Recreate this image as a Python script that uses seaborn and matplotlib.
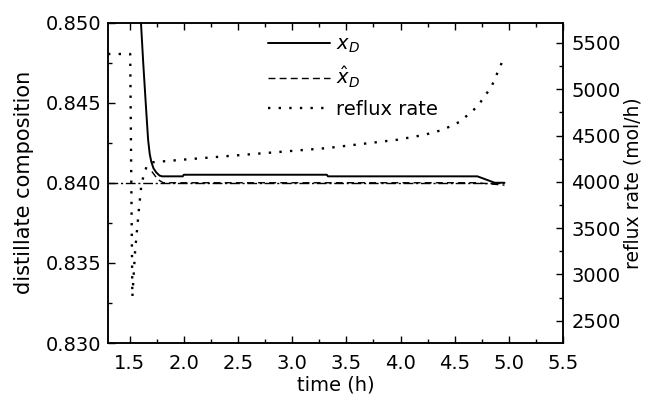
import numpy as np
import pandas as pd
import matplotlib
matplotlib.use("Agg")
import matplotlib.pyplot as plt
import seaborn as sns
from matplotlib.ticker import MultipleLocator
from matplotlib.lines import Line2D

# ---- data ----
t_xd = [1.600, 1.625, 1.648, 1.670, 1.685, 1.700, 1.720, 1.745, 1.775, 1.800, 1.990, 2.000, 3.320, 3.330, 4.710, 4.790, 4.870, 4.960]
xd = [0.8505, 0.8475, 0.8450, 0.8427, 0.8418, 0.8413, 0.8409, 0.84065, 0.84045, 0.8404, 0.8404, 0.8405, 0.8405, 0.8404, 0.8404, 0.8402, 0.8400, 0.8400]

t_xhat = [1.705, 1.760, 1.810, 4.700, 4.960]
xhat = [0.8407, 0.8402, 0.8400, 0.8400, 0.83985]

t_sp = [1.30, 4.96]
sp = [0.840, 0.840]

t_rr = [1.30, 1.505, 1.515, 1.525, 1.550, 1.585, 1.610, 1.660, 1.700, 2.000, 2.640, 3.320, 3.970, 4.220, 4.390, 4.550, 4.710, 4.840, 4.940]
rr = [5380, 5380, 4000, 2760, 3250, 3700, 3990, 4180, 4210, 4240, 4300, 4364, 4454, 4507, 4561, 4650, 4813, 5028, 5300]

xticks = [1.5, 2.0, 2.5, 3.0, 3.5, 4.0, 4.5, 5.0, 5.5]
yticks_left = [0.830, 0.835, 0.840, 0.845, 0.850]
yticks_right = [2500, 3000, 3500, 4000, 4500, 5000, 5500]
legend_labels = ["$x_D$", r"$\hat{x}_D$", "reflux rate"]

sns.set_style("ticks")
plt.rcParams['font.family'] = ['DejaVu Sans']
plt.rcParams['mathtext.fontset'] = 'dejavusans'
for k in ("text.color", "axes.labelcolor", "xtick.color", "ytick.color", "axes.edgecolor"):
    plt.rcParams[k] = "black"

FS = 14

fig = plt.figure(figsize=(6.48, 3.96), dpi=100)
ax = fig.add_axes([108/648, 1-343/396, (563-108)/648, (343-22.5)/396])
ax2 = ax.twinx()

df_xd = pd.DataFrame({"t": t_xd, "v": xd})
df_xhat = pd.DataFrame({"t": t_xhat, "v": xhat})
df_sp = pd.DataFrame({"t": t_sp, "v": sp})
df_rr = pd.DataFrame({"t": t_rr, "v": rr})

ls_dash = (0, (5, 3))
ls_dot = (0, (1, 3.5))
ls_dashdot = (0, (7, 2, 1.5, 2))

sns.lineplot(data=df_xd, x="t", y="v", ax=ax, color="black", lw=1.4, sort=False, legend=False)
sns.lineplot(data=df_sp, x="t", y="v", ax=ax, color="black", lw=1.0, sort=False, legend=False,
             linestyle=ls_dashdot)
sns.lineplot(data=df_xhat, x="t", y="v", ax=ax, color="black", lw=1.0, sort=False, legend=False,
             linestyle=ls_dash)
sns.lineplot(data=df_rr, x="t", y="v", ax=ax2, color="black", lw=1.7, sort=False, legend=False,
             linestyle=ls_dot)

ax.set_xlim(1.3, 5.5)
ax.set_ylim(0.830, 0.850)
ax2.set_ylim(2260, 5720)

ax.set_xticks(xticks)
ax.set_xticklabels([f"{v:.1f}" for v in xticks])
ax.set_yticks(yticks_left)
ax.set_yticklabels([f"{v:.3f}" for v in yticks_left])
ax2.set_yticks(yticks_right)
ax2.set_yticklabels([str(v) for v in yticks_right])
ax.xaxis.set_minor_locator(MultipleLocator(0.25))
ax.yaxis.set_minor_locator(MultipleLocator(0.0025))
ax2.yaxis.set_minor_locator(MultipleLocator(250))

ax.tick_params(which="both", direction="in", top=True, right=False, labelsize=FS, width=1, colors="black")
ax.tick_params(which="major", length=5)
ax.tick_params(which="minor", length=3)
ax.tick_params(axis="y", pad=5)
ax.tick_params(axis="x", pad=8)
ax2.tick_params(which="both", direction="in", labelsize=FS, width=1, pad=6, colors="black")
ax2.tick_params(which="major", length=5)
ax2.tick_params(which="minor", length=3)
for a in (ax, ax2):
    for s in a.spines.values():
        s.set_visible(True)
        s.set_linewidth(1.1)
        s.set_color("black")

ax.set_xlabel("time (h)", fontsize=FS, labelpad=2)
ax.set_ylabel("distillate composition", fontsize=15, labelpad=8)
ax2.set_ylabel("reflux rate (mol/h)", fontsize=13.5, labelpad=2)

handles = [
    Line2D([], [], color="black", lw=1.4),
    Line2D([], [], color="black", lw=1.0, linestyle=ls_dash),
    Line2D([], [], color="black", lw=1.7, linestyle=ls_dot),
]
ax.legend(handles, legend_labels, loc="upper left", bbox_to_anchor=(0.334, 0.985), frameon=False,
          fontsize=FS, handlelength=3.2, handletextpad=0.3, labelspacing=0.5, borderaxespad=0)

fig.savefig("out.png", dpi=100)
